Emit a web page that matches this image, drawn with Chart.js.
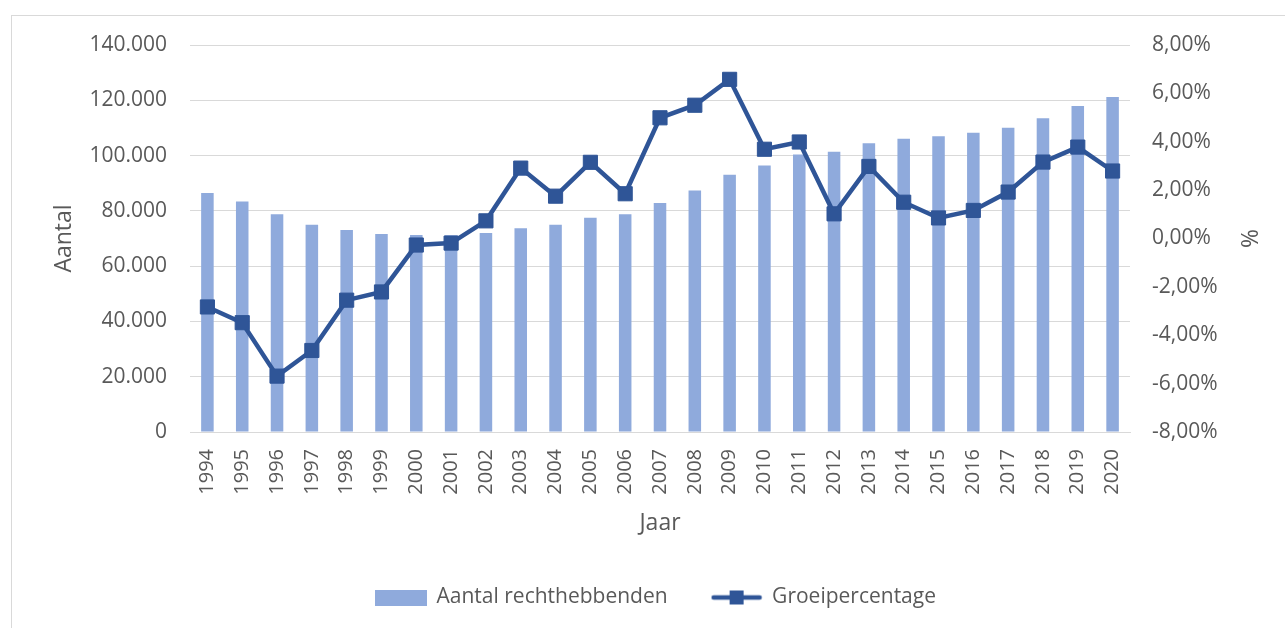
<!DOCTYPE html>
<html>
<head>
<meta charset="utf-8">
<script src="https://cdn.jsdelivr.net/npm/chart.js@4"></script>
<style>
    html, body { margin: 0; padding: 0; background: #fff; overflow: hidden; }
    #frame { position: absolute; left: 11px; top: 15px; width: 1400px; height: 700px; border: 1px solid #d9d9d9; }
    #wrap { position: absolute; left: 0; top: 0; width: 1285px; height: 628px; }
</style>
</head>
<body>
<div id="frame"></div>
<div id="wrap"><canvas id="chart"></canvas></div>
<script>
// Jaren (categorieën)
const jaren = ['1994', '1995', '1996', '1997', '1998', '1999', '2000', '2001', '2002', '2003',
    '2004', '2005', '2006', '2007', '2008', '2009', '2010', '2011', '2012', '2013',
    '2014', '2015', '2016', '2017', '2018', '2019', '2020'];

// Aantal rechthebbenden per jaar
const aantal = [86500, 83400, 78800, 75000, 73100, 71600, 71300, 71200, 72000, 73700,
    75000, 77500, 78800, 82800, 87400, 93100, 96400, 100400, 101400, 104500,
    106100, 107000, 108300, 110100, 113500, 117900, 121200];

// Groeipercentage (%)
const groei = [-2.83, -3.48, -5.69, -4.63, -2.55, -2.21, -0.27, -0.19, 0.73, 2.91,
    1.75, 3.15, 1.85, 4.99, 5.51, 6.58, 3.69, 3.99, 1.02, 2.98,
    1.50, 0.85, 1.16, 1.92, 3.16, 3.78, 2.79];

const barColor = '#8faadc';
const lineColor = '#2f5597';
const textColor = '#595959';
const gridColor = '#d9d9d9';
const fontFamily = '"Open Sans", sans-serif';

// Legenda-symbolen als kleine canvassen
function legendBar() {
    const c = document.createElement('canvas');
    c.width = 52; c.height = 16;
    const ctx = c.getContext('2d');
    ctx.fillStyle = barColor;
    ctx.fillRect(0, 0, 52, 16);
    return c;
}

function legendLine() {
    const c = document.createElement('canvas');
    c.width = 52; c.height = 16;
    const ctx = c.getContext('2d');
    ctx.strokeStyle = lineColor;
    ctx.lineWidth = 4.5;
    ctx.lineCap = 'round';
    ctx.beginPath();
    ctx.moveTo(3, 8);
    ctx.lineTo(49, 8);
    ctx.stroke();
    ctx.fillStyle = lineColor;
    ctx.fillRect(19, 1, 14, 14);
    return c;
}

function thousands(v) {
    return String(v).replace(/\B(?=(\d{3})+(?!\d))/g, '.');
}

new Chart(document.getElementById('chart').getContext('2d'), {
    data: {
        labels: jaren,
        datasets: [
            {
                type: 'line',
                label: 'Groeipercentage',
                data: groei,
                yAxisID: 'y1',
                borderColor: lineColor,
                backgroundColor: lineColor,
                borderWidth: 4.5,
                tension: 0,
                pointStyle: 'rect',
                pointRadius: 10,
                pointBorderWidth: 1,
                pointBackgroundColor: lineColor,
                pointBorderColor: lineColor,
                order: 0
            },
            {
                type: 'bar',
                label: 'Aantal rechthebbenden',
                data: aantal,
                yAxisID: 'y',
                backgroundColor: barColor,
                barPercentage: 0.36,
                categoryPercentage: 1,
                order: 1
            }
        ]
    },
    options: {
        responsive: true,
        maintainAspectRatio: false,
        animation: false,
        layout: { padding: { top: 45, left: 47, right: 20, bottom: 10 } },
        scales: {
            x: {
                ticks: { color: textColor, font: { family: fontFamily, size: 20 }, minRotation: 90, maxRotation: 90, padding: 17 },
                grid: { display: false, drawTicks: false },
                border: { display: true, color: gridColor },
                title: { display: true, text: 'Jaar', color: textColor, font: { family: fontFamily, size: 23 }, padding: { top: 0, bottom: 6 } },
                afterFit: s => { s.height = 111; }
            },
            y: {
                position: 'left',
                min: 0,
                max: 140000,
                ticks: { stepSize: 20000, color: textColor, font: { family: fontFamily, size: 21 }, padding: 23, callback: v => thousands(v) },
                grid: { color: gridColor, drawTicks: false },
                border: { display: false },
                title: { display: true, text: 'Aantal', color: textColor, font: { family: fontFamily, size: 23 }, padding: 4 },
                afterFit: s => { s.width = 143; }
            },
            y1: {
                position: 'right',
                min: -8,
                max: 8,
                ticks: { stepSize: 2, color: textColor, font: { family: fontFamily, size: 21 }, padding: 22, callback: v => v.toFixed(2).replace('.', ',') + '%' },
                grid: { display: false, drawTicks: false },
                border: { display: false },
                title: { display: true, text: '%', color: textColor, font: { family: fontFamily, size: 23 }, padding: 4 },
                afterFit: s => { s.width = 135; }
            }
        },
        plugins: {
            tooltip: { enabled: false },
            legend: {
                display: true,
                position: 'bottom',
                labels: {
                    color: textColor,
                    font: { family: fontFamily, size: 21 },
                    usePointStyle: true,
                    pointStyleWidth: 50,
                    padding: 44,
                    generateLabels: () => [
                        { text: 'Aantal rechthebbenden', pointStyle: legendBar(), fontColor: textColor, datasetIndex: 1, lineWidth: 0 },
                        { text: 'Groeipercentage', pointStyle: legendLine(), fontColor: textColor, datasetIndex: 0, lineWidth: 0 }
                    ]
                }
            }
        }
    }
});
</script>
</body>
</html>
